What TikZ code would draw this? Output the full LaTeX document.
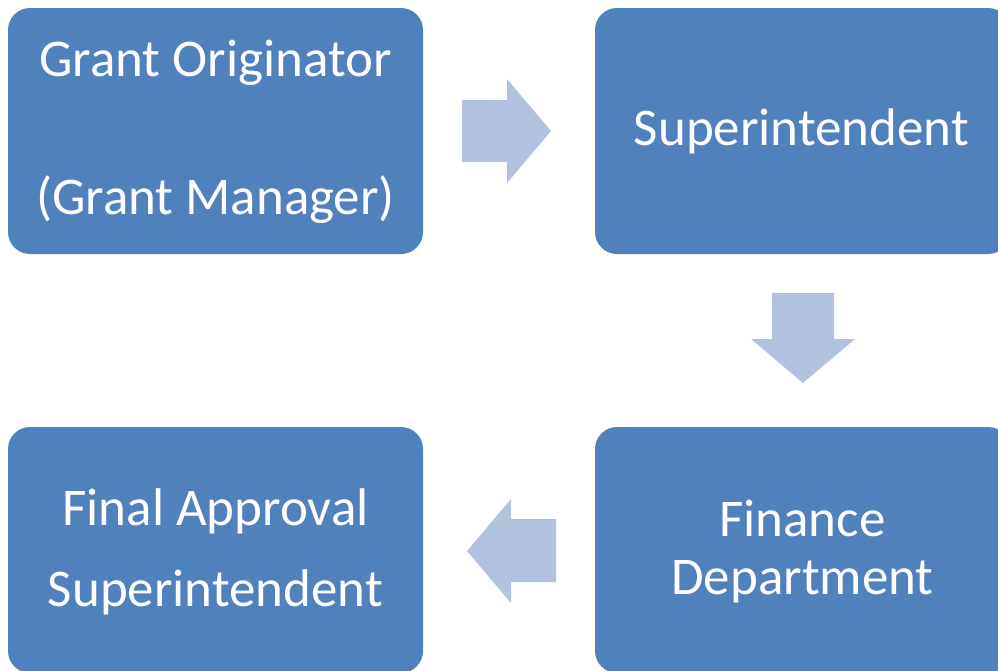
\documentclass[tikz,border=0pt]{standalone}
\usepackage{fontspec}
\setmainfont{Carlito}
\definecolor{boxblue}{HTML}{4F81BD}
\definecolor{arrowblue}{HTML}{B2C2DE}
\tikzset{box/.style={rectangle,rounded corners=22pt,fill=boxblue,draw=none,minimum width=415pt,minimum height=246pt,inner sep=0pt}}
\tikzset{t/.style={text=white,anchor=base,inner sep=0pt,font=\fontsize{53}{62}\selectfont}}
\tikzset{blk/.style={fill=arrowblue}}

\begin{document}
\begin{tikzpicture}[x=1pt,y=-1pt]
      \useasboundingbox (0,0) rectangle (998,670);
      \node[box] (orig) at (215.5,131) {};
      \node[box] (sup) at (802.5,131) {};
      \node[box] (fin) at (802.5,550) {};
      \node[box] (final) at (215.5,550) {};
      \node[t] (orig1) at (215.5,76) {Grant Originator};
      \node[t] (orig2) at (215.5,214) {(Grant Manager)};
      \node[t] (sup1) at (801.5,145) {Superintendent};
      \node[t] (fin1) at (802.5,536) {Finance};
      \node[t] (fin2) at (802.5,594) {Department};
      \node[t] (final1) at (215.5,525) {Final Approval};
      \node[t] (final2) at (215.5,606) {Superintendent};
        % block arrows
        \fill[blk] (462,100) -- (507,100) -- (507,79) -- (551,131) -- (507,183) -- (507,162) -- (462,162) -- cycle;
        \fill[blk] (772,293) -- (834,293) -- (834,339) -- (855,339) -- (803,383) -- (751,339) -- (772,339) -- cycle;
        \fill[blk] (556,519) -- (511,519) -- (511,499) -- (467,551) -- (511,603) -- (511,582) -- (556,582) -- cycle;
    \end{tikzpicture}
\end{document}
